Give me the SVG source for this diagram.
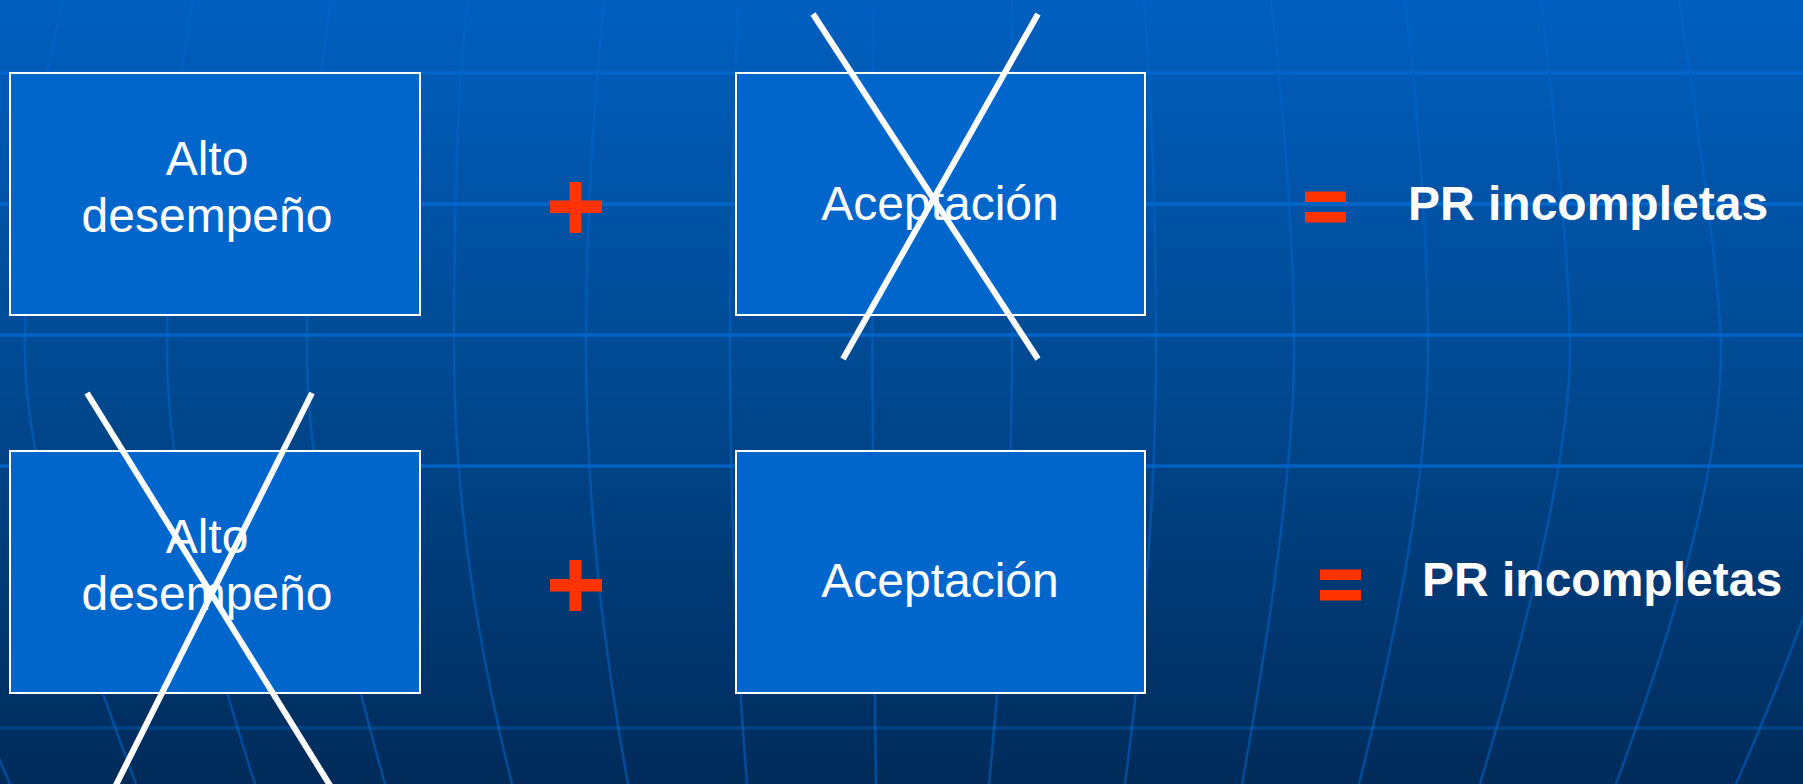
<svg xmlns="http://www.w3.org/2000/svg" width="1803" height="784" viewBox="0 0 1803 784">
<defs>
<linearGradient id="bg" x1="0" y1="0" x2="0" y2="1">
<stop offset="0" stop-color="#005FBF"/>
<stop offset="0.5" stop-color="#00488F"/>
<stop offset="1" stop-color="#002B5A"/>
</linearGradient>
</defs>
<style>
.mer{fill:none;stroke:#0066CC;stroke-opacity:0.55;stroke-width:2.5}
.hl{stroke:#0066CC;stroke-width:3.5}
.box{fill:#0066CC;stroke:#FFFFFF;stroke-width:2}
.t{font-family:"Liberation Sans",Arial,sans-serif;font-size:48px;fill:#FFFFFF;text-anchor:middle}
.b{font-family:"Liberation Sans",Arial,sans-serif;font-size:48px;font-weight:bold;fill:#FFFFFF}
.red{fill:#FF3300}
.x{stroke:#FFFFFF;stroke-width:6;fill:none}
</style>
<rect x="0" y="0" width="1803" height="784" fill="url(#bg)"/>
<g id="background-grid">
<path class="mer" d="M-60,0 Q-115,150 -115,350 Q-115,500 10,784"/>
<path class="mer" d="M63,0 Q25,152 25,350 Q25,492 136,784"/>
<path class="mer" d="M193,0 Q167,144 167,350 Q167,509 255,784"/>
<path class="mer" d="M331,0 Q307,160 307,350 Q307,505 385,784"/>
<path class="mer" d="M468,0 Q454,108 454,350 Q454,552 512,784"/>
<path class="mer" d="M604,0 Q586,180 586,350 Q586,551 628,784"/>
<path class="mer" d="M738,0 Q730,267 730,350 Q730,572 747,784"/>
<path class="mer" d="M874,0 Q870,370 876,784"/>
<path class="mer" d="M1012,0 Q1012,200 1012,350 Q1012,554 989,784"/>
<path class="mer" d="M1144,0 Q1156,150 1156,350 Q1156,546 1125,784"/>
<path class="mer" d="M1271,0 Q1294,200 1294,350 Q1294,495 1242,784"/>
<path class="mer" d="M1405,0 Q1428,200 1428,350 Q1428,508 1359,784"/>
<path class="mer" d="M1541,0 Q1570,250 1570,350 Q1570,484 1480,784"/>
<path class="mer" d="M1679,0 Q1721,280 1721,350 Q1721,500 1616,784"/>
<path class="mer" d="M1830,0 Q1865,200 1865,350 Q1865,490 1736,784"/>
<line class="hl" x1="0" y1="73" x2="1803" y2="73"/>
<line class="hl" x1="0" y1="204" x2="1803" y2="204"/>
<line class="hl" x1="0" y1="335" x2="1803" y2="335" stroke-opacity="0.9"/>
<line class="hl" x1="0" y1="466" x2="1803" y2="466" stroke-opacity="0.85"/>
<line class="hl" x1="0" y1="728" x2="1803" y2="728" stroke-opacity="0.35"/>
</g>
<g id="alto1">
<rect class="box" x="10" y="73" width="410" height="242"/>
<text class="t" x="207" y="175">Alto</text>
<text class="t" x="207" y="232">desempeño</text>
</g>
<g id="plus1">
<rect class="red" x="569.5" y="182" width="12" height="51"/>
<rect class="red" x="550" y="200.5" width="52" height="12.5"/>
</g>
<g id="aceptacion1">
<rect class="box" x="736" y="73" width="409" height="242"/>
<text class="t" x="940" y="220">Aceptación</text>
</g>
<g id="equals1">
<rect class="red" x="1305" y="191.5" width="41" height="10.5"/>
<rect class="red" x="1305" y="212" width="41" height="10.5"/>
</g>
<g id="result1">
<text class="b" x="1408" y="220">PR incompletas</text>
</g>
<g id="alto2">
<rect class="box" x="10" y="451" width="410" height="242"/>
<text class="t" x="207" y="553">Alto</text>
<text class="t" x="207" y="610">desempeño</text>
</g>
<g id="plus2">
<rect class="red" x="569.5" y="560" width="12" height="51"/>
<rect class="red" x="550" y="579" width="52" height="12.5"/>
</g>
<g id="aceptacion2">
<rect class="box" x="736" y="451" width="409" height="242"/>
<text class="t" x="940" y="597">Aceptación</text>
</g>
<g id="equals2">
<rect class="red" x="1320" y="569.5" width="41" height="10.5"/>
<rect class="red" x="1320" y="590" width="41" height="10.5"/>
</g>
<g id="result2">
<text class="b" x="1422" y="596">PR incompletas</text>
</g>
<g id="connectors">
<line class="x" x1="813" y1="14" x2="1038" y2="359"/>
<line class="x" x1="1038" y1="14" x2="843" y2="359"/>
<line class="x" x1="87" y1="393" x2="331" y2="787"/>
<line class="x" x1="312" y1="393" x2="115" y2="787"/>
</g>
</svg>
